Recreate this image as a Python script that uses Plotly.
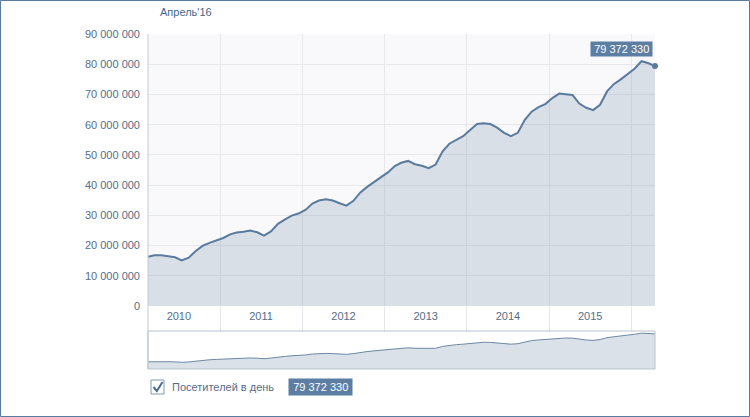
import pandas as pd
import plotly.graph_objects as go

# ---- data ----
visitors = [
    16300000, 16800000, 16800000, 16500000, 16100000, 15100000, 16000000, 18200000, 19900000, 20900000,
    21700000, 22500000, 23700000, 24300000, 24600000, 25000000, 24400000, 23300000, 24700000, 27200000,
    28600000, 29900000, 30600000, 31800000, 33900000, 34900000, 35300000, 34900000, 34000000, 33200000,
    34800000, 37600000, 39400000, 41100000, 42500000, 44200000, 46300000, 47400000, 48000000, 46900000,
    46400000, 45600000, 46800000, 51200000, 53700000, 55100000, 56200000, 58200000, 60200000, 60500000,
    60200000, 59000000, 57300000, 56200000, 57300000, 61600000, 64300000, 65800000, 66800000, 68800000,
    70300000, 70100000, 69800000, 67000000, 65600000, 64800000, 66600000, 71000000, 73400000, 75000000,
    76700000, 78500000, 81000000, 80400000, 79372330,
]
months = pd.date_range("2010-02-01", periods=len(visitors), freq="MS") + pd.Timedelta(days=14)
years = ["2010", "2011", "2012", "2013", "2014", "2015"]
year_mid = [pd.Timestamp(f"{y}-07-02") for y in years]
y_ticks = [0, 10000000, 20000000, 30000000, 40000000, 50000000, 60000000, 70000000, 80000000, 90000000]
title_text = "Апрель'16"
legend_text = "Посетителей в день"
last_label = "79 372 330"

# ---- layout helpers (pixel -> paper) ----
W, H = 750, 417
L, R, T, B = 148, 655, 34, 369
def px(x):
    return (x - L) / (R - L)
def py(y):
    return (B - y) / (B - T)

LINE = "#5a7a9e"
FILL = "rgba(91,122,156,0.2)"
TXT = "#566d88"
FONT = "Liberation Sans, Arial, sans-serif"
TS = "\u2009"

fig = go.Figure()
fig.add_trace(go.Scatter(
    x=months, y=visitors, mode="lines", fill="tozeroy",
    line=dict(color=LINE, width=2), fillcolor=FILL,
    xaxis="x", yaxis="y", hoverinfo="skip",
))
fig.add_trace(go.Scatter(
    x=[months[-1]], y=[visitors[-1]], mode="markers",
    marker=dict(color=LINE, size=6), cliponaxis=False,
    xaxis="x", yaxis="y", hoverinfo="skip",
))
fig.add_trace(go.Scatter(
    x=months, y=visitors, mode="lines", fill="tozeroy",
    line=dict(color="#6c88a6", width=1), fillcolor="#dae1e9",
    xaxis="x2", yaxis="y2", hoverinfo="skip",
))

main_bottom = py(306)
nav_top = py(331)

fig.update_layout(
    width=W, height=H,
    margin=dict(l=L, r=W - R, t=T, b=H - B, pad=0),
    paper_bgcolor="white", plot_bgcolor="white",
    showlegend=False,
    separators=". ",
    font=dict(family=FONT, size=11, color=TXT),
    xaxis=dict(
        range=[months[0], months[-1]], domain=[0, 1], anchor="y",
        tickmode="array", tickvals=year_mid, ticktext=years,
        showgrid=False, ticks="", showline=False, zeroline=False,
        tickfont=dict(size=11, color=TXT), ticklabelstandoff=2,
        minor=dict(tick0="2010-01-01", dtick="M12", ticks="outside", ticklen=25,
                   tickcolor="#e3e6ea", tickwidth=1, showgrid=True,
                   gridcolor="#e6e8ec", gridwidth=1),
    ),
    yaxis=dict(
        range=[0, 90000000], domain=[main_bottom, 1], anchor="x",
        tickmode="array", tickvals=y_ticks, tickformat=",d",
        showgrid=True, gridcolor="#e6e8ec", gridwidth=1,
        zeroline=False, showline=False, ticks="", ticklabelstandoff=7,
        tickfont=dict(size=11, color=TXT),
    ),
    xaxis2=dict(range=[months[0], months[-1]], domain=[0, 1], anchor="y2",
                visible=False, showgrid=False),
    yaxis2=dict(range=[0, 86000000], domain=[0, nav_top], anchor="x2",
                visible=False, showgrid=False),
)

shapes = [
    dict(type="rect", xref="paper", yref="paper", x0=0, x1=1, y0=main_bottom, y1=1,
         fillcolor="#f9f9fb", line=dict(width=0), layer="below"),
    dict(type="line", xref="paper", yref="paper", x0=0, x1=0, y0=0, y1=1,
         line=dict(color="#c3cbd5", width=1)),
    dict(type="rect", xref="paper", yref="paper", x0=0, x1=1, y0=0, y1=nav_top,
         line=dict(color="#b7c3cf", width=1)),
    dict(type="rect", xref="paper", yref="paper", x0=px(0.5), x1=px(749.5),
         y0=py(416.5), y1=py(0.5), line=dict(color="#587a9e", width=1)),
    dict(type="rect", xref="paper", yref="paper", x0=px(151), x1=px(164),
         y0=py(394), y1=py(380), fillcolor="white", line=dict(color="#7f98b4", width=1)),
    dict(type="path", xref="paper", yref="paper",
         path=f"M {px(153.5)},{py(387)} L {px(156.8)},{py(391)} L {px(162.5)},{py(382)}",
         line=dict(color="#4a6d94", width=2)),
]
fig.update_layout(shapes=shapes)

annotations = [
    dict(text=title_text, xref="paper", yref="paper", x=px(158), y=py(12),
         xanchor="left", yanchor="middle", showarrow=False,
         font=dict(size=11, color="#45678c")),
    dict(text=legend_text, xref="paper", yref="paper", x=px(170), y=py(387),
         xanchor="left", yanchor="middle", showarrow=False,
         font=dict(size=11, color=TXT)),
    dict(text=TS + last_label + TS, xref="paper", yref="paper", x=px(288), y=py(387),
         xanchor="left", yanchor="middle", showarrow=False,
         bgcolor="#5d7ea3", borderpad=2, font=dict(size=11, color="white")),
    dict(text=TS + last_label + TS, xref="x", yref="y", x=months[-1], y=visitors[-1],
         xanchor="right", yanchor="bottom", xshift=-2, yshift=9, showarrow=False,
         bgcolor="#5d7ea3", borderpad=1, font=dict(size=11, color="white")),
]
fig.update_layout(annotations=annotations)

fig.write_html("out.html")
